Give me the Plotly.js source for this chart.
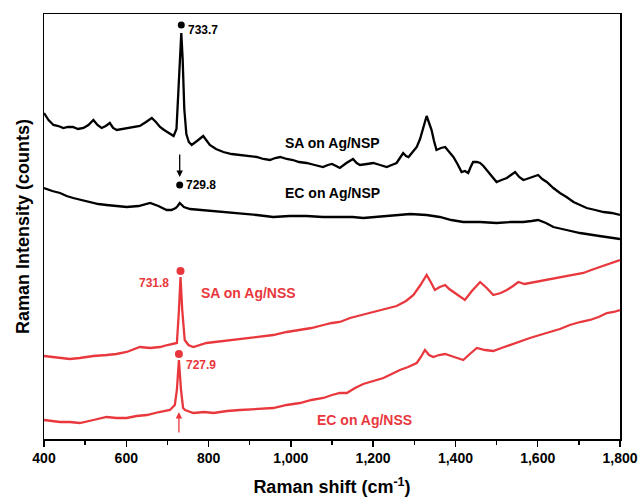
<!DOCTYPE html>
<html>
<head>
<meta charset="utf-8">
<script src="https://cdn.plot.ly/plotly-3.0.1.min.js"></script>
<style>html,body{margin:0;padding:0;background:#fff;}#chart{width:641px;height:498px;}</style>
</head>
<body>
<div id="chart"></div>
<script>
// Raman shift (cm^-1) and intensity (arbitrary, offset traces)
const saNspX = [400,411,423,435,447,458,470,483,496,508,520,530,540,550,560,568,577,593,609,621,633,648,662,672,682,692,702,710,715,722,727,731,733.7,737,741,746,752,759,767,775,787,795,803,818,836,856,876,896,917,933,949,962,974,990,1005,1020,1038,1058,1078,1090,1100,1110,1119,1135,1151,1160,1168,1185,1200,1217,1233,1245,1257,1265,1273,1280,1286,1296,1306,1314,1320,1325,1330,1336,1342,1348,1354,1365,1375,1385,1395,1405,1415,1423,1431,1437,1443,1452,1460,1468,1476,1488,1500,1512,1525,1535,1545,1555,1565,1573,1581,1591,1601,1611,1622,1638,1654,1670,1687,1703,1719,1740,1760,1780,1800];
const saNspY = [326,319,314,313,311,312,312,310,311,314,319,314,311,313,316,311,309,310,311,312,313,317,321,317,312,309,306,304,303,310,350,395,406,380,330,305,297,294,297,299,303,298,294,290,287,285,284,283,282,280,279,281,282,280,279,277,276,274,272,274,275,273,271,276,280,276,274,275,276,274,272,274,276,281,286,283,282,287,292,300,309,316,323,316,309,298,289,291,292,287,282,275,267,268,266,272,277,277,276,273,269,262,257,259,261,264,267,262,259,260,261,262,264,260,257,251,246,242,237,234,231,229,227,226,224];

const ecNspX = [400,420,439,455,471,490,512,532,552,576,601,630,658,678,698,710,720,725,730,735,740,755,784,812,845,876,917,957,997,1038,1078,1119,1150,1176,1230,1290,1330,1362,1390,1419,1460,1500,1535,1565,1585,1601,1620,1638,1670,1703,1750,1800];
const ecNspY = [251,248,246,243,241,239,237,235,234,233,232,233,236,233,229,229,231,233,236,234,232,230,229,228,227,226,224,222,223,223,222,222,222,221,223,225,224,222,219,217,217,216,217,217,218,219,216,212,209,206,203,200];

const saNssX = [400,420,439,463,487,520,552,576,601,618,633,658,682,700,715,723,728,731.8,736,742,751,763,795,835,876,917,957,990,1022,1050,1079,1100,1119,1144,1172,1200,1228,1257,1280,1298,1315,1330,1340,1350,1362,1375,1385,1395,1410,1423,1440,1460,1476,1492,1510,1525,1540,1553,1568,1581,1600,1622,1640,1662,1690,1711,1730,1751,1775,1800];
const saNssY = [83,82,81,80,81,83,84,85,87,90,92,91,92,94,95,96,129,162,129,99,94,92,96,98,100,102,104,107,109,111,114,116,117,121,124,127,130,133,138,144,154,164,157,149,152,154,150,147,142,139,148,157,151,144,146,149,153,157,155,156,157,159,160,162,164,166,169,172,176,179];

const ecNssX = [400,420,439,463,487,520,552,576,601,625,650,680,706,718,723,727.9,733,738,743,763,790,812,845,876,917,957,990,1022,1050,1079,1100,1119,1136,1156,1176,1200,1225,1245,1265,1285,1306,1316,1326,1336,1346,1360,1375,1397,1419,1435,1452,1472,1492,1512,1533,1557,1581,1605,1630,1654,1678,1703,1727,1748,1768,1785,1800];
const ecNssY = [19,18,17,17,16,19,22,21,21,23,24,27,29,34,49,79,49,31,29,26,27,26,28,29,30,31,34,36,39,41,44,46,46,51,55,58,61,65,69,72,76,82,89,84,82,84,85,82,79,85,91,89,88,91,94,98,101,104,107,110,114,117,119,122,126,127,129];

// Peak markers and labels
const blackPeakX = [733.7, 729.8];
const blackPeakY = [414, 254];
const redPeakX = [731.8, 727.9];
const redPeakY = [168, 85];
const peakLabels = ['733.7', '729.8', '731.8', '727.9'];
const seriesNames = ['SA on Ag/NSP', 'EC on Ag/NSP', 'SA on Ag/NSS', 'EC on Ag/NSS'];
const xTicks = [400, 600, 800, 1000, 1200, 1400, 1600, 1800];

const BLACK = '#000000';
const RED = '#e8383d';
const FONT = 'Liberation Sans, Arial, sans-serif';

const lineTrace = (x, y, c, n) => ({x, y, name: n, type: 'scatter', mode: 'lines', line: {color: c, width: 2.3}, hoverinfo: 'skip'});
const traces = [
  lineTrace(saNspX, saNspY, BLACK, seriesNames[0]),
  lineTrace(ecNspX, ecNspY, BLACK, seriesNames[1]),
  lineTrace(saNssX, saNssY, RED, seriesNames[2]),
  lineTrace(ecNssX, ecNssY, RED, seriesNames[3]),
  {x: blackPeakX, y: blackPeakY, type: 'scatter', mode: 'markers', marker: {color: BLACK, size: 7}, hoverinfo: 'skip'},
  {x: redPeakX, y: redPeakY, type: 'scatter', mode: 'markers', marker: {color: RED, size: 8}, hoverinfo: 'skip'}
];

const txt = (x, y, t, c, size, anchor) => ({x, y, xref: 'x', yref: 'y', text: t, showarrow: false,
  xanchor: anchor, yanchor: 'middle', font: {family: FONT, size: size, color: c, weight: 'bold'}});

const annotations = [
  txt(745, 409, '<b>' + peakLabels[0] + '</b>', BLACK, 12, 'left'),
  txt(740, 254, '<b>' + peakLabels[1] + '</b>', BLACK, 12, 'left'),
  txt(708, 156, '<b>' + peakLabels[2] + '</b>', RED, 12, 'right'),
  txt(740, 74, '<b>' + peakLabels[3] + '</b>', RED, 12, 'left'),
  txt(1102, 296, '<b>' + seriesNames[0] + '</b>', BLACK, 14, 'center'),
  txt(1102, 246, '<b>' + seriesNames[1] + '</b>', BLACK, 14, 'center'),
  txt(898, 146, '<b>' + seriesNames[2] + '</b>', RED, 14, 'center'),
  txt(1179, 19, '<b>' + seriesNames[3] + '</b>', RED, 14, 'center'),
  {x: blackPeakX[1], y: 262, ax: blackPeakX[1], ay: 286, xref: 'x', yref: 'y', axref: 'x', ayref: 'y',
   showarrow: true, arrowhead: 2, arrowsize: 1, arrowwidth: 1.3, arrowcolor: BLACK, text: ''},
  {x: redPeakX[1], y: 27, ax: redPeakX[1], ay: 5, xref: 'x', yref: 'y', axref: 'x', ayref: 'y',
   showarrow: true, arrowhead: 2, arrowsize: 1, arrowwidth: 1.3, arrowcolor: RED, text: ''}
];

const layout = {
  width: 641, height: 498,
  margin: {l: 44, r: 21, t: 14, b: 59},
  paper_bgcolor: '#ffffff', plot_bgcolor: '#ffffff',
  showlegend: false,
  font: {family: FONT, color: '#000'},
  xaxis: {
    range: [400, 1800], tickvals: xTicks, tickformat: ',d',
    ticks: 'outside', ticklen: 6, tickwidth: 1.3, tickcolor: '#000',
    minor: {dtick: 100, ticks: 'outside', ticklen: 4, tickwidth: 1.3, tickcolor: '#000', showgrid: false},
    showline: true, linecolor: '#000', linewidth: 1.5, mirror: true,
    showgrid: false, zeroline: false,
    tickfont: {family: FONT, size: 14, color: '#000', weight: 'bold'},
    title: {text: '<b>Raman shift (cm<sup>-1</sup>)</b>', font: {family: FONT, size: 18, color: '#000'}, standoff: 15}
  },
  yaxis: {
    range: [0, 425], showticklabels: false, ticks: '',
    showline: true, linecolor: '#000', linewidth: 1.5, mirror: true,
    showgrid: false, zeroline: false,
    title: {text: '<b>Raman Intensity (counts)</b>', font: {family: FONT, size: 18, color: '#000'}, standoff: 8}
  },
  annotations: annotations
};

Plotly.newPlot('chart', traces, layout, {displayModeBar: false, staticPlot: true});
</script>
</body>
</html>
